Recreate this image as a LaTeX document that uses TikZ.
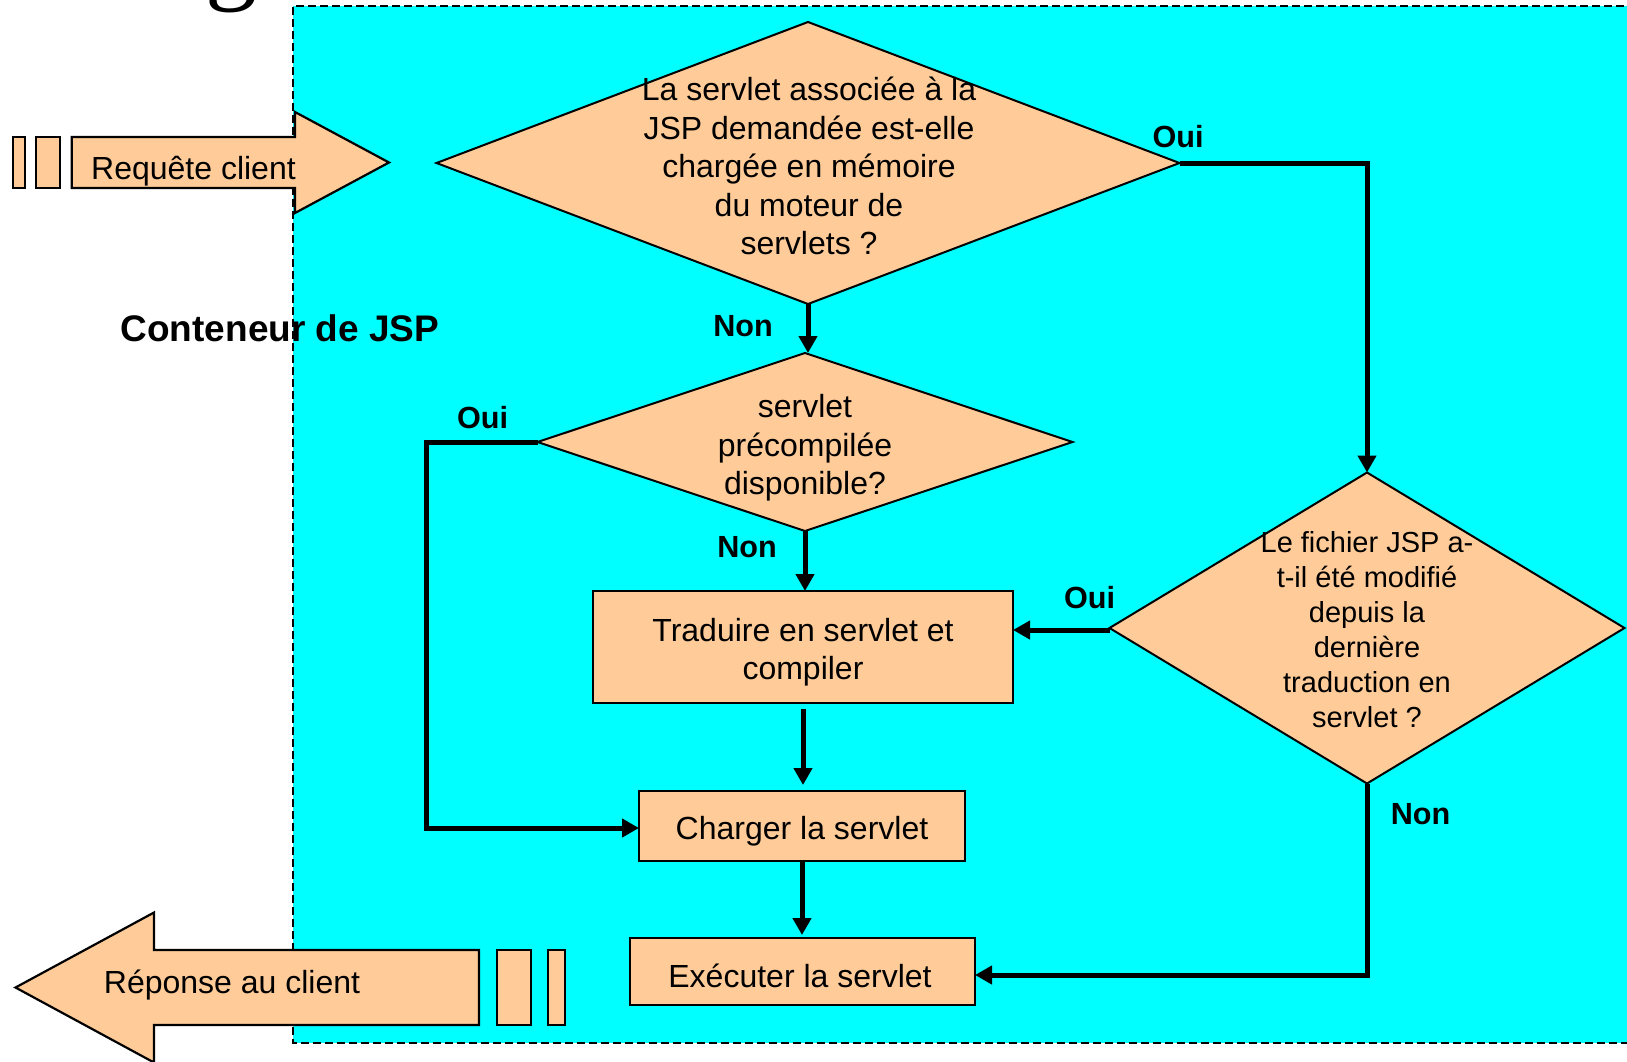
\documentclass[tikz,border=0pt]{standalone}
\usepackage{fontspec}
\setmainfont{Liberation Sans}
\newfontfamily\serifg{Liberation Serif}
\usetikzlibrary{shapes.geometric,arrows.meta}
\definecolor{peach}{HTML}{FFCC99}
\definecolor{cont}{HTML}{00FFFF}
\begin{document}
\begin{tikzpicture}[x=0.5pt,y=-0.5pt,
  dia/.style={diamond, draw=black, line width=1pt, fill=peach, inner sep=0pt, outer sep=0pt},
  boxn/.style={rectangle, draw=black, line width=1pt, fill=peach, inner sep=0pt, outer sep=0pt},
  txt/.style={align=center, inner sep=0pt, font=\fontsize{16}{19.2}\selectfont},
  txtsmall/.style={align=center, inner sep=0pt, font=\fontsize{14.5}{17.5}\selectfont},
  lbl/.style={inner sep=0pt, font=\bfseries\fontsize{15.3}{18}\selectfont},
  conn/.style={line width=2.5pt, -{Triangle[width=9pt,length=8.5pt]}},
  blk/.style={draw=black, line width=1.1pt, fill=peach},
  border/.style={line width=1pt, dash pattern=on 4pt off 2pt}]
\useasboundingbox (0,0) rectangle (1627,1061);
% container
\fill[cont] (293,6) rectangle (1660,1043);
\node[font=\serifg\fontsize{52}{60}\selectfont, anchor=base, inner sep=0pt] (g) at (231,-10) {g};
\draw[border] (1660,6) -- (293,6) -- (293,1043) -- (1660,1043);
\node[inner sep=0pt, font=\bfseries\fontsize{18.5}{22}\selectfont] (cjsp) at (280,328) {Conteneur de JSP};
% request arrow
\draw[blk] (12.7,137) rectangle (25.3,188);
\draw[blk] (35.7,137) rectangle (60.3,188);
\draw[blk] (71.7,137) -- (295,137) -- (295,112) -- (389,162.5) -- (295,213) -- (295,188) -- (71.7,188) -- cycle;
\node[txt] (req) at (193.5,171) {Requête client};
% response arrow
\draw[blk] (548,950) rectangle (565,1025);
\draw[blk] (497,950) rectangle (531,1025);
\draw[blk] (479,950) -- (154,950) -- (154,912.5) -- (15.5,987.5) -- (154,1062.5) -- (154,1025) -- (479,1025) -- cycle;
\node[txt] (rep) at (232,985) {Réponse au client};
% decisions
\node[dia, minimum width=371.5pt, minimum height=141pt] (d1) at (808,163) {};
\node[txt] (d1t) at (809,166) {La servlet associée à la\\JSP demandée est-elle\\chargée en mémoire\\du moteur de\\servlets ?};
\node[dia, minimum width=267.5pt, minimum height=89pt] (d2) at (805,442) {};
\node[txt] (d2t) at (805,448) {servlet\\précompilée\\disponible?};
\node[dia, minimum width=257.5pt, minimum height=155.5pt] (d3) at (1367,628) {};
\node[txtsmall] (d3t) at (1367,629.5) {Le fichier JSP a-\\t-il été modifié\\depuis la\\dernière\\traduction en\\servlet ?};
% process boxes
\node[boxn, minimum width=210pt, minimum height=56pt] (tr) at (803,647) {};
\node[txt] (trt) at (803,652) {Traduire en servlet et\\compiler};
\node[boxn, minimum width=163pt, minimum height=35pt] (ch) at (802,826) {};
\node[txt] (cht) at (802,831) {Charger la servlet};
\node[boxn, minimum width=172.5pt, minimum height=33.5pt] (ex) at (802.5,971.5) {};
\node[txt] (ext) at (800,975.5) {Exécuter la servlet};
% connectors
\coordinate (lc) at (426,442);
\draw[conn] (d1.south) -- (d1.south |- d2.north);
\draw[conn] (d1.east) -| (d3.north);
\draw[conn] (d2.west) -- (lc) |- ([yshift=-1pt]ch.west);
\draw[conn] (d2.south) -- (d2.south |- tr.north);
\draw[conn] ([yshift=-1pt]d3.west) -- ([yshift=-1pt]d3.west -| tr.east);
\draw[conn, shorten <=3pt, shorten >=3pt] (tr.south) -- (tr.south |- ch.north);
\draw[conn, shorten >=1.5pt] (ch.south) -- (ch.south |- ex.north);
\draw[conn] (d3.south) |- ([yshift=-1.75pt]ex.east);
% labels
\node[lbl] (l1) at (1178,137) {Oui};
\node[lbl] (l2) at (743,326) {Non};
\node[lbl] (l3) at (482.5,418) {Oui};
\node[lbl] (l4) at (747,547) {Non};
\node[lbl] (l5) at (1089.5,598) {Oui};
\node[lbl] (l6) at (1420.5,814.5) {Non};
\end{tikzpicture}
\end{document}
